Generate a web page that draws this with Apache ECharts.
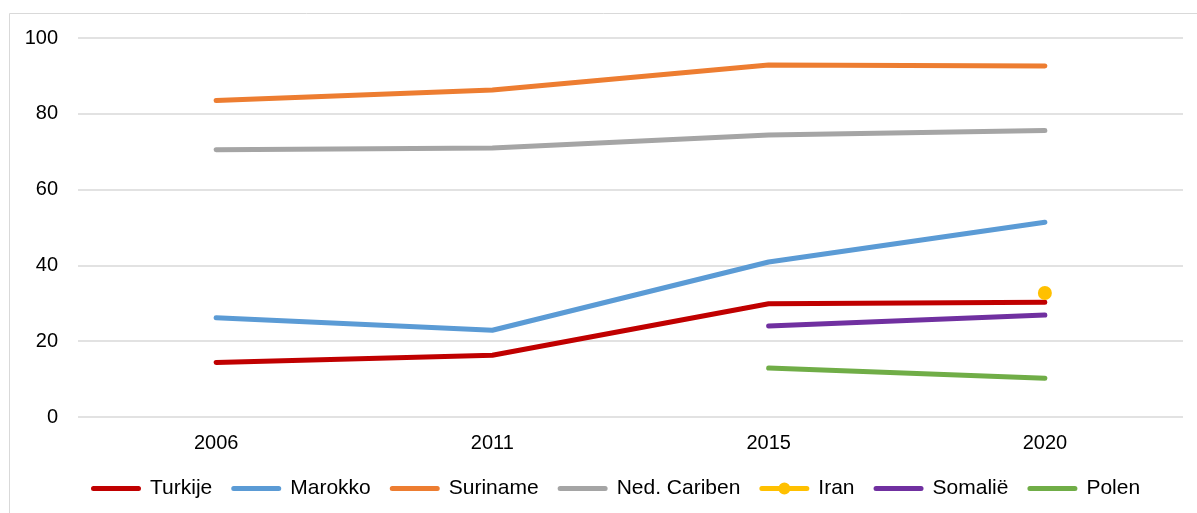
<!DOCTYPE html>
<html><head><meta charset="utf-8">
<script src="https://cdn.jsdelivr.net/npm/echarts@6/dist/echarts.min.js"></script>
<style>html,body{margin:0;padding:0;background:#fff}#c{width:1197px;height:513px}</style>
</head><body><div id="c"></div>
<script>
const categories = ['2006', '2011', '2015', '2020'];
const turkije = [14.4, 16.3, 29.9, 30.3];
const marokko = [26.2, 22.9, 40.9, 51.4];
const suriname = [83.5, 86.3, 92.9, 92.6];
const nedCariben = [70.5, 71.0, 74.4, 75.6];
const iran = [null, null, null, 32.7];
const somalie = [null, null, 24.0, 26.9];
const polen = [null, null, 12.9, 10.2];
const yTicks = [0, 20, 40, 60, 80, 100];

const font = 'Liberation Sans, Arial, sans-serif';
const lineIcon = 'path://M2.5,4.5 L47.5,4.5 A2.5,2.5 0 0 1 47.5,9.5 L2.5,9.5 A2.5,2.5 0 0 1 2.5,4.5 Z M25,0 L25.01,0 L25,0.01 Z M25,14 L25.01,14 L25,13.99 Z M0,7 L0.01,7 L0,7.01 Z M50,7 L49.99,7 L50,7.01 Z';
const dotIcon = 'path://M2.5,4.5 L47.5,4.5 A2.5,2.5 0 0 1 47.5,9.5 L2.5,9.5 A2.5,2.5 0 0 1 2.5,4.5 Z M19,7 A6,6 0 1 1 31,7 A6,6 0 1 1 19,7 Z M25,0 L25.01,0 L25,0.01 Z M25,14 L25.01,14 L25,13.99 Z M0,7 L0.01,7 L0,7.01 Z M50,7 L49.99,7 L50,7.01 Z';

function lineSeries(name, data, color, withSymbol) {
  return {
    name, type: 'line', data,
    symbol: withSymbol ? 'circle' : 'none',
    symbolSize: 14,
    showSymbol: !!withSymbol,
    lineStyle: { width: 5, color, cap: 'round', join: 'round' },
    itemStyle: { color },
    connectNulls: false,
    animation: false
  };
}
const names = ['Turkije', 'Marokko', 'Suriname', 'Ned. Cariben', 'Iran', 'Somalië', 'Polen'];
const chart = echarts.init(document.getElementById('c'));
chart.setOption({
  animation: false,
  graphic: [{
    type: 'rect', left: 7, top: 11, shape: { width: 1200, height: 520 },
    style: { fill: 'none', stroke: '#d9d9d9', lineWidth: 1 }, z: -10
  }],
  grid: { left: 78, right: 14, top: 38, bottom: 96, containLabel: false },
  xAxis: {
    type: 'category', data: categories, boundaryGap: true,
    axisLine: { show: false }, axisTick: { show: false },
    axisLabel: { color: '#000', fontSize: 20, fontFamily: font, margin: 16 }
  },
  yAxis: {
    type: 'value', min: yTicks[0], max: yTicks[yTicks.length - 1], interval: 20,
    axisLine: { show: false }, axisTick: { show: false },
    axisLabel: { color: '#000', fontSize: 20, fontFamily: font, margin: 20 },
    splitLine: { lineStyle: { color: '#d9d9d9', width: 1.5 } }
  },
  legend: {
    bottom: 9, left: 86, itemWidth: 50, itemHeight: 14, itemGap: 19,
    data: names.map(n => ({ name: n, icon: n === 'Iran' ? dotIcon : lineIcon })),
    textStyle: { color: '#000', fontSize: 21, fontFamily: font, padding: [0, 0, 0, 4] }
  },
  series: [
    lineSeries('Turkije', turkije, '#C00000'),
    lineSeries('Marokko', marokko, '#5B9BD5'),
    lineSeries('Suriname', suriname, '#ED7D31'),
    lineSeries('Ned. Cariben', nedCariben, '#A5A5A5'),
    lineSeries('Iran', iran, '#FFC000', true),
    lineSeries('Somalië', somalie, '#7030A0'),
    lineSeries('Polen', polen, '#70AD47')
  ]
});
</script></body></html>
